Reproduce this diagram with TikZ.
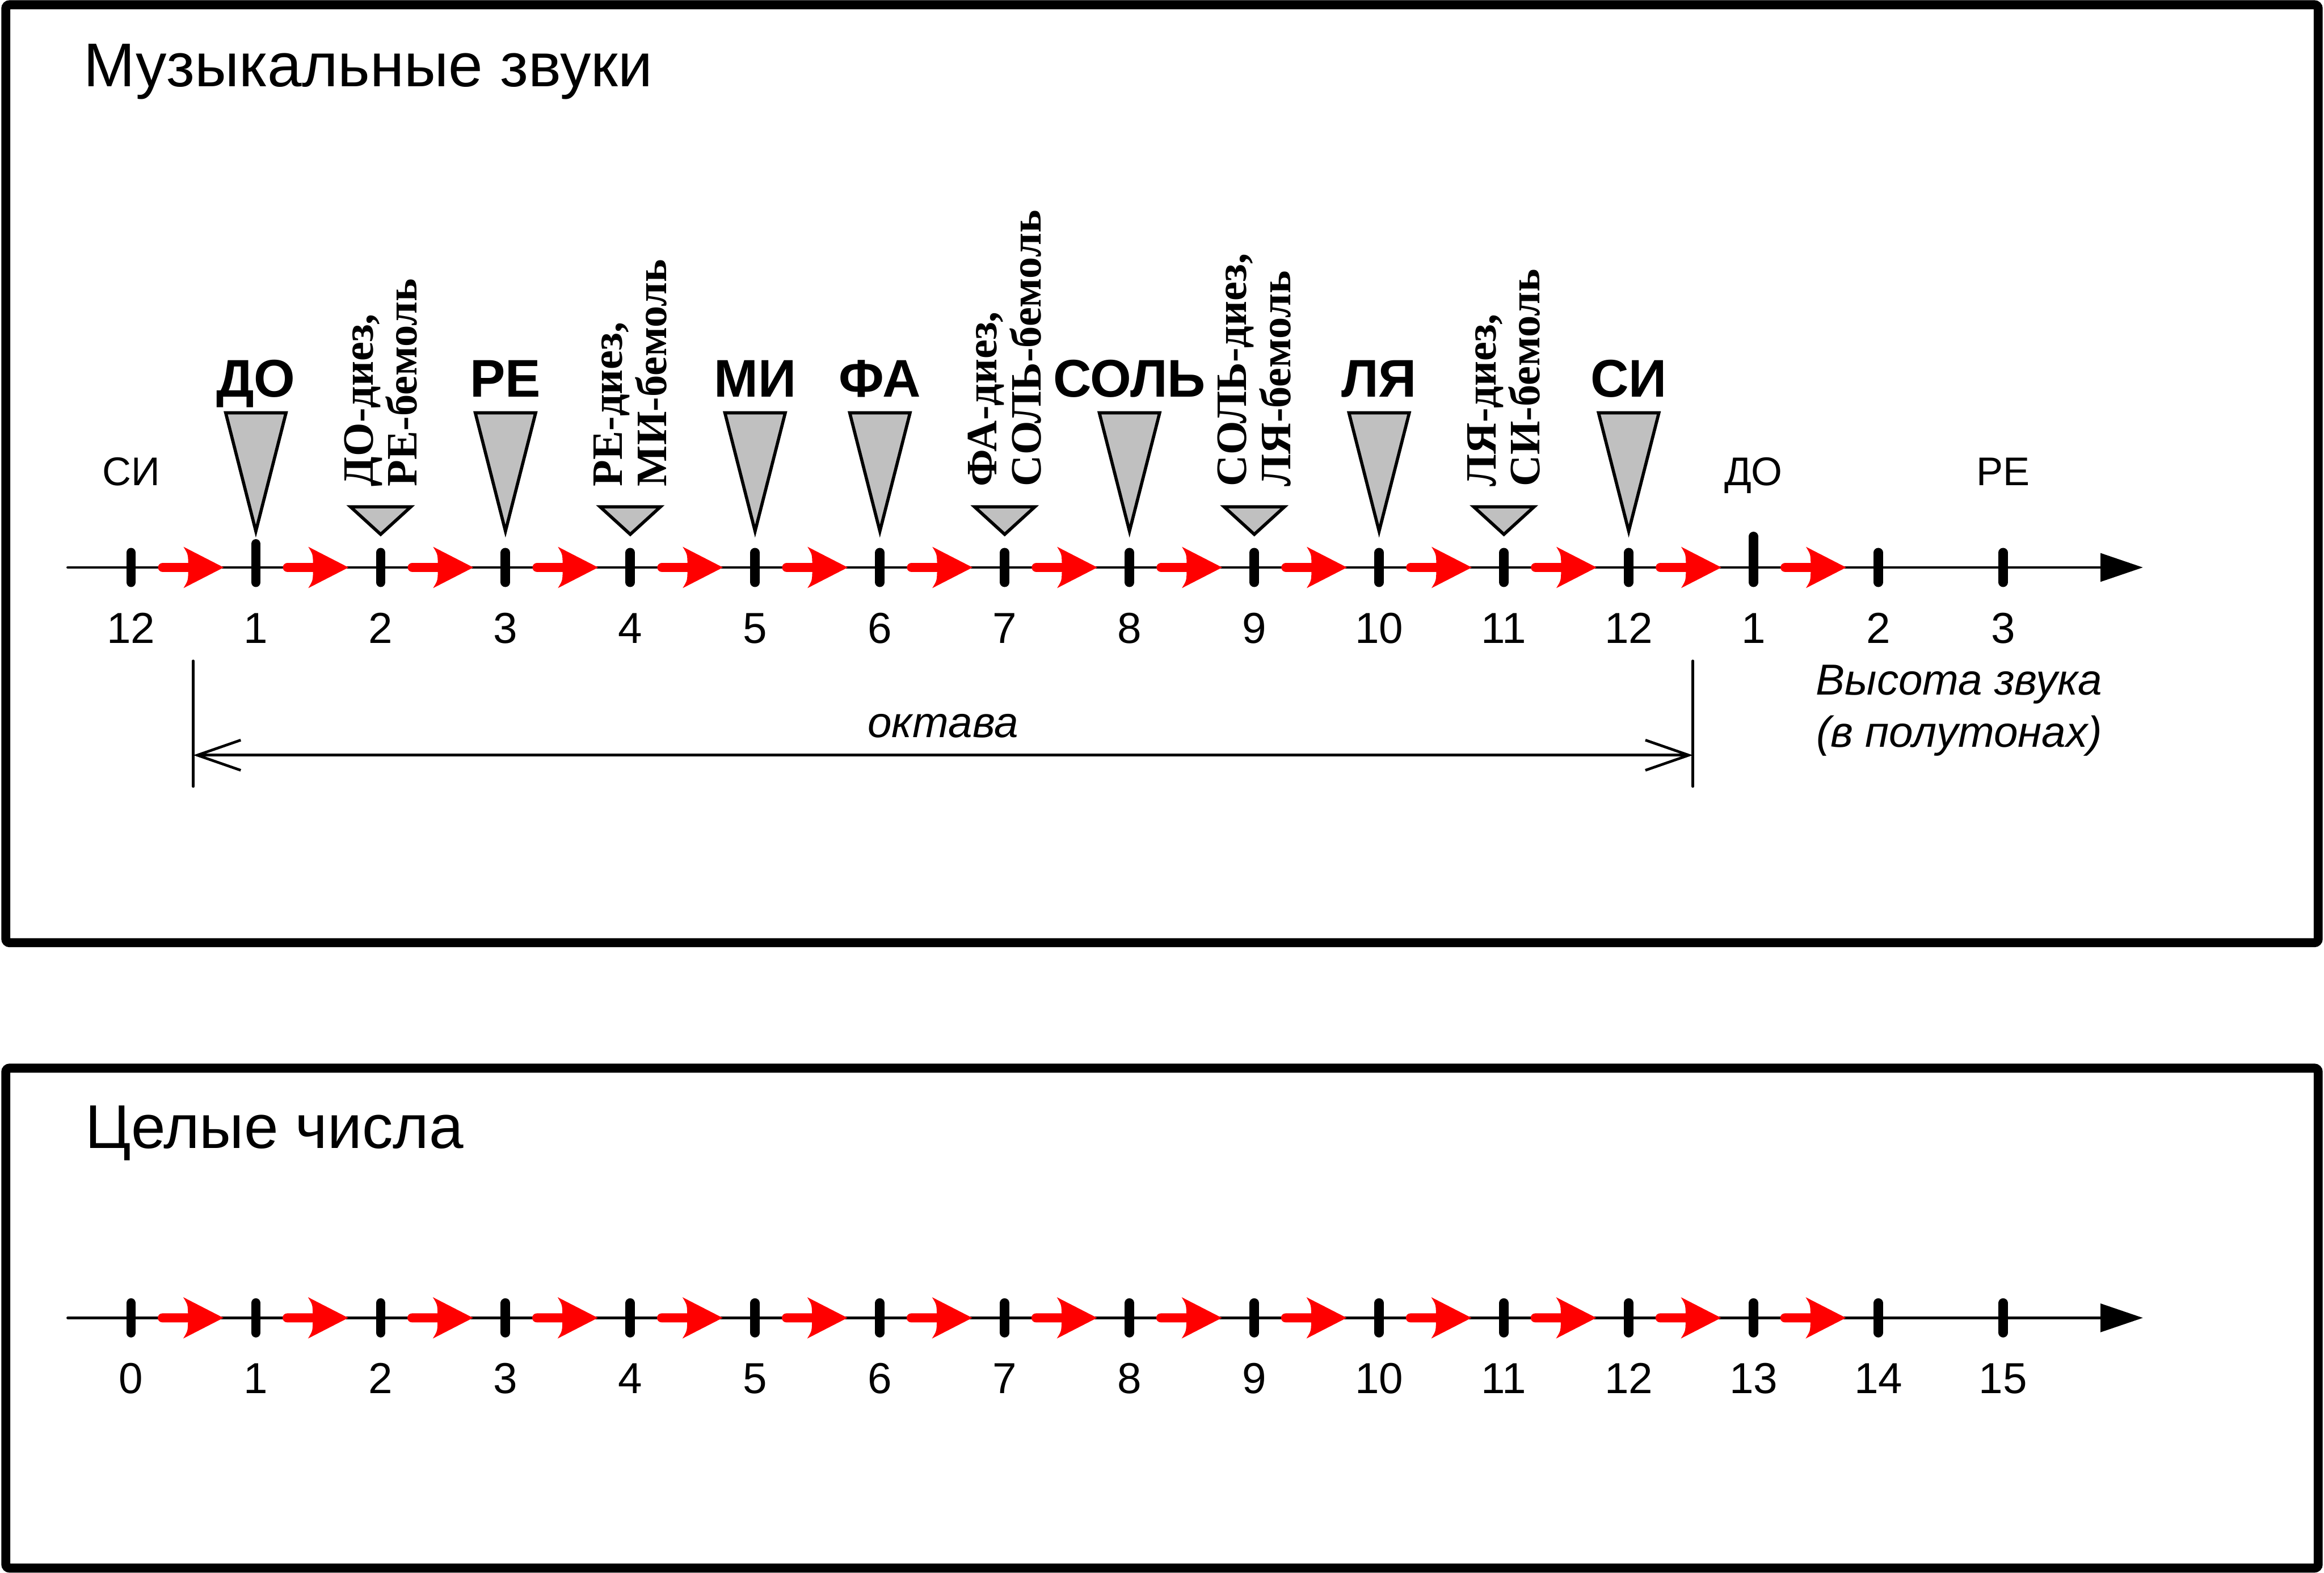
\documentclass[tikz,border=0pt]{standalone}
\usepackage{fontspec}
\setmainfont{Liberation Sans}
\newfontfamily\serifnote{Liberation Serif}
\usetikzlibrary{arrows.meta,calc}
\definecolor{keygray}{HTML}{C0C0C0}
\definecolor{stepred}{HTML}{FF0000}
\tikzset{
  panel/.style={line width=0.17cm, rounded corners=2pt},
  numline/.style={line width=0.05cm, line cap=round, -{Triangle[length=0.8cm, width=0.53cm]}},
  tickmark/.style={line width=0.18cm, line cap=round},
  natkey/.style={draw, fill=keygray, line width=0.06cm},
  heading/.style={font=\fontsize{33.2}{36}\selectfont, anchor=base west, inner sep=0pt},
  notename/.style={font=\bfseries\fontsize{28.5}{32}\selectfont, anchor=base, inner sep=0pt},
  sharpname/.style={font=\serifnote\bfseries\fontsize{23.3}{23.6}\selectfont, rotate=90,
                    anchor=west, align=left, inner sep=0pt},
  sidename/.style={font=\fontsize{21.5}{24}\selectfont, anchor=base, inner sep=0pt},
  num/.style={font=\fontsize{23.3}{26}\selectfont, anchor=base, inner sep=0pt},
  remark/.style={font=\itshape\fontsize{23.3}{28.2}\selectfont, anchor=base, align=center, inner sep=0pt},
  octarr/.style={line width=0.05cm, line cap=round,
                 {Straight Barb[length=0.82cm, width=0.57cm]}-{Straight Barb[length=0.82cm, width=0.57cm]}},
  bar/.style={line width=0.05cm, line cap=round},
  redstep/.pic={
    \fill[stepred] (0.085,0.085) arc[start angle=90, end angle=270, radius=0.085]
      -- (0.57,-0.085) .. controls (0.565,-0.25) .. (0.48,-0.39) -- (1.24,0)
      -- (0.48,0.39) .. controls (0.565,0.25) .. (0.57,0.085) -- cycle;
  },
}

\begin{document}
\begin{tikzpicture}
  \useasboundingbox (0,0) rectangle (43.89,-29.70);

  % Musical sounds
  \draw[panel] (0.11,-0.09) rectangle (43.78,-17.80);
  \node[heading] (title1) at (1.57,-1.63) {Музыкальные звуки};

  \draw[numline] (1.28,-10.715) -- (40.47,-10.715);
  \foreach \i in {0,...,13}
    \pic at ({2.475+2.357*\i+0.51},-10.715) {redstep};
  \foreach \i/\n in {0/12,1/1,2/2,3/3,4/4,5/5,6/6,7/7,8/8,9/9,10/10,11/11,12/12,13/1,14/2,15/3} {
    \coordinate (t\i) at ({2.475+2.357*\i},-10.715);
    \node[num] (n\i) at ({2.475+2.357*\i},-12.15) {\n};
  }
  \foreach \i in {0,2,3,4,5,6,7,8,9,10,11,12,14,15}
    \draw[tickmark] ($(t\i)+(0,0.28)$) -- ($(t\i)-(0,0.28)$);
  \draw[tickmark] ($(t1)+(0,0.445)$) -- ($(t1)-(0,0.28)$);
  \draw[tickmark] ($(t13)+(0,0.585)$) -- ($(t13)-(0,0.28)$);

  % natural notes
  \foreach \i/\s in {1/ДО,3/РЕ,5/МИ,6/ФА,8/СОЛЬ,10/ЛЯ,12/СИ} {
    \draw[natkey] ($(t\i)+(-0.57,2.92)$) -- ($(t\i)+(0.57,2.92)$) -- ($(t\i)+(0,0.685)$) -- cycle;
    \node[notename] (k\i) at ($(t\i)+(0,3.225)$) {\s};
  }
  % sharps and flats
  \foreach \i/\s in {2/{ДО-диез,\\РЕ-бемоль},4/{РЕ-диез,\\МИ-бемоль},7/{ФА-диез,\\СОЛЬ-бемоль},
                     9/{СОЛЬ-диез,\\ЛЯ-бемоль},11/{ЛЯ-диез,\\СИ-бемоль}} {
    \draw[natkey] ($(t\i)+(-0.57,1.145)$) -- ($(t\i)+(0.57,1.145)$) -- ($(t\i)+(0,0.625)$) -- cycle;
    \node[sharpname] (s\i) at ($(t\i)+(0,1.525)$) {\s};
  }
  \node[sidename] (si0) at ($(t0)+(0,1.545)$) {СИ};
  \node[sidename] (do13) at ($(t13)+(0,1.545)$) {ДО};
  \node[sidename] (re15) at ($(t15)+(0,1.545)$) {РЕ};

  \node[remark] (pitch) at (37.00,-14.11) {Высота звука\\(в полутонах)};

  % octave
  \coordinate (octL) at (3.65,-14.26);
  \coordinate (octR) at (31.97,-14.26);
  \draw[bar] ($(octL)+(0,1.78)$) -- ($(octL)-(0,0.59)$);
  \draw[bar] ($(octR)+(0,1.78)$) -- ($(octR)-(0,0.59)$);
  \draw[octarr] (octL) -- (octR);
  \node[remark] (oct) at (17.81,-13.92) {октава};

  % Integers
  \draw[panel] (0.11,-20.17) rectangle (43.78,-29.61);
  \node[heading] (title2) at (1.61,-21.68) {Целые числа};

  \draw[numline] (1.28,-24.885) -- (40.47,-24.885);
  \foreach \i in {0,...,13}
    \pic at ({2.475+2.357*\i+0.505},-24.885) {redstep};
  \foreach \i in {0,...,15} {
    \coordinate (z\i) at ({2.475+2.357*\i},-24.885);
    \draw[tickmark] ($(z\i)+(0,0.28)$) -- ($(z\i)-(0,0.28)$);
    \node[num] (m\i) at ({2.475+2.357*\i},-26.31) {\i};
  }
\end{tikzpicture}
\end{document}
